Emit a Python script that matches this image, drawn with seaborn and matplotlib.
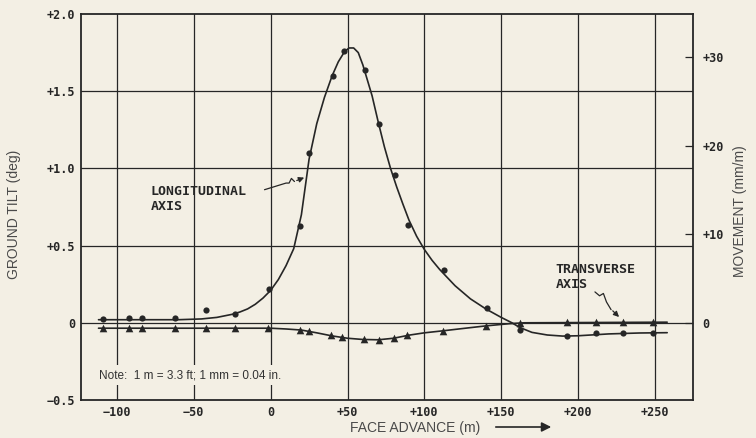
import numpy as np
import pandas as pd
import matplotlib
matplotlib.use("Agg")
import matplotlib.pyplot as plt
import seaborn as sns

# ---------------- data ----------------
# Longitudinal axis: measured points (circles)
long_pts_x = [-109, -92, -84, -62, -42, -23, -1, 19, 25, 40.5, 47.6, 61.7, 70.3, 81,
              89.6, 113, 140.7, 162, 192.6, 212, 229, 249]
long_pts_y = [0.025, 0.028, 0.028, 0.028, 0.08, 0.058, 0.218, 0.63, 1.10, 1.60, 1.76,
              1.64, 1.29, 0.96, 0.635, 0.34, 0.095, -0.045, -0.085, -0.065, -0.065, -0.065]

# Longitudinal axis: drawn curve
long_curve_x = [-112, -60, -45, -35, -25, -20, -15, -10, -5, 0, 5, 10, 15, 20, 25, 30, 35,
                40, 44, 48, 51, 54, 57, 60, 63, 66, 70, 74, 78, 82, 86, 90, 95, 100, 105,
                110, 120, 130, 140, 150, 157, 162, 170, 180, 190, 200, 220, 240, 258]
long_curve_y = [0.02, 0.02, 0.025, 0.035, 0.055, 0.07, 0.09, 0.12, 0.16, 0.21, 0.28, 0.37,
                0.48, 0.70, 1.06, 1.29, 1.46, 1.60, 1.69, 1.755, 1.78, 1.78, 1.75, 1.67,
                1.57, 1.47, 1.30, 1.14, 1.00, 0.88, 0.77, 0.665, 0.56, 0.475, 0.405, 0.345,
                0.24, 0.155, 0.09, 0.035, 0.0, -0.03, -0.062, -0.079, -0.086, -0.084,
                -0.072, -0.066, -0.064]

# Transverse axis: measured points (triangles)
trans_pts_x = [-109, -92, -84, -62, -42, -23, -2, 19, 25, 39, 46.5, 60.6, 70.8, 80.5,
               88.7, 112.3, 140, 162, 192.6, 212, 229, 249]
trans_pts_y = [-0.035, -0.035, -0.035, -0.035, -0.035, -0.035, -0.035, -0.045, -0.05,
               -0.08, -0.093, -0.106, -0.11, -0.1, -0.082, -0.052, -0.02, 0.0, 0.004,
               0.004, 0.004, 0.004]

# Transverse axis: drawn curve
trans_curve_x = [-112, 0, 10, 20, 30, 40, 50, 60, 70, 80, 90, 100, 112, 125, 140, 155,
                 165, 258]
trans_curve_y = [-0.035, -0.035, -0.04, -0.047, -0.065, -0.085, -0.1, -0.108, -0.11, -0.1,
                 -0.08, -0.065, -0.052, -0.037, -0.02, -0.006, 0.0, 0.004]

x_ticks = [-100, -50, 0, 50, 100, 150, 200, 250]
x_tick_labels = ["\u2212100", "\u221250", "0", "+50", "+100", "+150", "+200", "+250"]
y_ticks = [-0.5, 0, 0.5, 1.0, 1.5, 2.0]
y_tick_labels = ["\u22120.5", "0", "+0.5", "+1.0", "+1.5", "+2.0"]
r_ticks = [0, 10, 20, 30]
r_tick_labels = ["0", "+10", "+20", "+30"]

# ---------------- style ----------------
BG = "#f3efe4"
INK = "#262626"
sns.set_theme(style="white", rc={
    "figure.facecolor": BG, "axes.facecolor": BG, "savefig.facecolor": BG,
    "axes.edgecolor": INK, "text.color": INK,
})
plt.rcParams["font.family"] = ["DejaVu Sans Mono", "DejaVu Sans"]

fig = plt.figure(figsize=(7.56, 4.38), dpi=100)
ax = fig.add_axes([81 / 756, 38 / 438, 612 / 756, 386 / 438])

df_lc = pd.DataFrame({"x": long_curve_x, "y": long_curve_y})
df_tc = pd.DataFrame({"x": trans_curve_x, "y": trans_curve_y})
df_lp = pd.DataFrame({"x": long_pts_x, "y": long_pts_y})
df_tp = pd.DataFrame({"x": trans_pts_x, "y": trans_pts_y})

sns.lineplot(data=df_lc, x="x", y="y", ax=ax, color=INK, lw=1.2, sort=False, zorder=3)
sns.lineplot(data=df_tc, x="x", y="y", ax=ax, color=INK, lw=1.2, sort=False, zorder=3)
sns.scatterplot(data=df_lp, x="x", y="y", ax=ax, color=INK, marker="o", s=20,
                edgecolor=INK, linewidth=0, zorder=4)
sns.scatterplot(data=df_tp, x="x", y="y", ax=ax, color=INK, marker="^", s=30,
                edgecolor=INK, linewidth=0, zorder=4)

ax.set_xlim(-123.4, 274.8)
ax.set_ylim(-0.5, 2.0)
ax.set_xticks(x_ticks)
ax.set_xticklabels(x_tick_labels, fontsize=8.5, fontweight="bold")
ax.set_yticks(y_ticks)
ax.set_yticklabels(y_tick_labels, fontsize=8.5, fontweight="bold")
ax.set_xlabel("")
ax.set_ylabel("")
for v in x_ticks:
    ax.axvline(v, color=INK, lw=0.9, zorder=1)
for v in [0, 0.5, 1.0, 1.5]:
    ax.axhline(v, color=INK, lw=0.9, zorder=1)
ax.tick_params(axis="x", direction="in", length=6, width=0.9, pad=4, colors=INK)
ax.tick_params(axis="y", length=0, pad=4, colors=INK)
for s in ax.spines.values():
    s.set_linewidth(1.3)
    s.set_color(INK)

ax2 = ax.twinx()
ax2.set_ylim(-0.5 * 17.45, 2.0 * 17.45)
ax2.set_yticks(r_ticks)
ax2.set_yticklabels(r_tick_labels, fontsize=8.5, fontweight="bold")
ax2.tick_params(axis="y", direction="in", length=6, width=0.9, pad=7, colors=INK)
for s in ax2.spines.values():
    s.set_visible(False)

# annotations
ax.text(-78, 0.895, "LONGITUDINAL\nAXIS", fontsize=9.5, fontweight="bold",
        ha="left", va="top", linespacing=1.25, zorder=5)
ax.plot([-4, 10, 12, 13.5, 15.5], [0.862, 0.905, 0.905, 0.935, 0.915], color=INK, lw=0.9,
        zorder=5)
ax.annotate("", xy=(23.5, 0.947), xytext=(15.3, 0.915),
            arrowprops=dict(arrowstyle="-|>", color=INK, lw=0.9, mutation_scale=8),
            zorder=5)

ax.text(185.5, 0.39, "TRANSVERSE\nAXIS", fontsize=9.5, fontweight="bold",
        ha="left", va="top", linespacing=1.25, zorder=5)
ax.plot([211, 214, 216.5, 218.5, 221.5], [0.2, 0.175, 0.19, 0.135, 0.085], color=INK,
        lw=0.9, zorder=5)
ax.annotate("", xy=(228, 0.025), xytext=(221.3, 0.09),
            arrowprops=dict(arrowstyle="-|>", color=INK, lw=0.9, mutation_scale=8),
            zorder=5)

ax.text(-111.5, -0.34, "Note:  1 m = 3.3 ft; 1 mm = 0.04 in.", fontsize=8.5,
        family="Liberation Sans", ha="left", va="center", color="#333333", zorder=5,
        bbox=dict(facecolor=BG, edgecolor="none", pad=3))

# axis titles
fig.text(14 / 756, 1 - 214 / 438, "GROUND TILT (deg)", rotation=90, ha="center",
         va="center", fontsize=10, family="Liberation Sans", color="#4a4a4a")
fig.text(740 / 756, 1 - 211 / 438, "MOVEMENT (mm/m)", rotation=90, ha="center",
         va="center", fontsize=10, family="Liberation Sans", color="#4a4a4a")
fig.text(415 / 756, 1 - 428 / 438, "FACE ADVANCE (m)", ha="center", va="center",
         fontsize=10, family="Liberation Sans", color="#4a4a4a")
fig.add_artist(matplotlib.patches.FancyArrowPatch(
    (493 / 756, 1 - 427 / 438), (554 / 756, 1 - 427 / 438), transform=fig.transFigure,
    arrowstyle="-|>", mutation_scale=14, color=INK, lw=1.2))

fig.savefig("out.png", dpi=100)
